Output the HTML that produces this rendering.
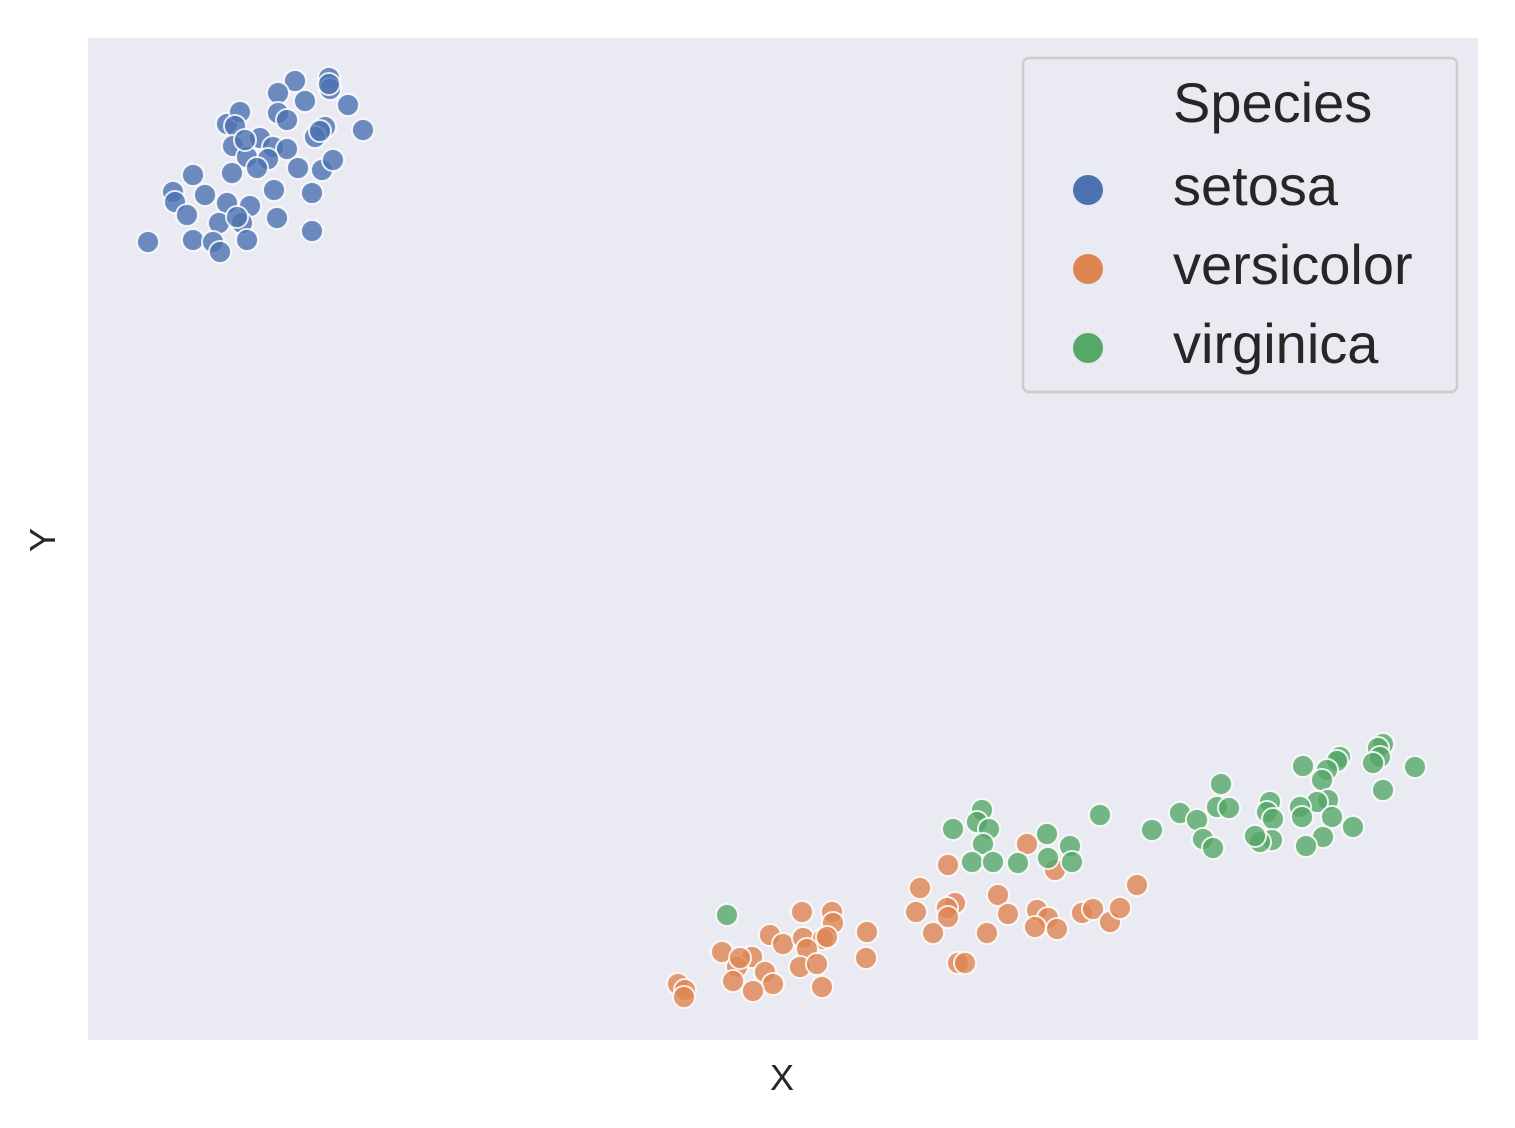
<!DOCTYPE html>
<html><head><meta charset="utf-8"><style>
html,body{margin:0;padding:0;background:#fff;}
svg{display:block;font-family:"Liberation Sans",Arial,sans-serif;}
</style></head><body>
<svg id="chart" width="1515" height="1128" viewBox="0 0 1515 1128">
<rect x="88" y="38" width="1390" height="1002" fill="#eaeaf2"/>
<g id="points"></g>
<text x="782" y="1090" font-size="36" text-anchor="middle" fill="#262626">X</text>
<text x="55" y="540" font-size="36" text-anchor="middle" fill="#262626" transform="rotate(-90 55 540)">Y</text>
<g>
<rect x="1023" y="58" width="434" height="334" rx="6" fill="#eaeaf2" fill-opacity="0.8" stroke="#cccccc" stroke-width="2.5"/>
<text x="1173" y="122" font-size="56" fill="#262626">Species</text>
<g><circle cx="1088" cy="190" r="15" fill="#4c72b0"/><text x="1173" y="205" font-size="56" fill="#262626">setosa</text></g>
<g><circle cx="1088" cy="269" r="15" fill="#dd8452"/><text x="1173" y="284" font-size="56" fill="#262626">versicolor</text></g>
<g><circle cx="1088" cy="348" r="15" fill="#55a868"/><text x="1173" y="363" font-size="56" fill="#262626">virginica</text></g>
</g>
</svg>
<script>
const setosaX=[20.7,24.1,24.2,19.0,21.7,26.0,13.9,15.2,14.7,19.0,19.9,23.7,22.7,27.5,17.2,14.5,18.5,19.9,15.9,18.0,16.9,21.0,23.4,24.5,14.4,10.5,8.5,8.7,11.7,9.9,13.9,16.2,18.6,22.4,13.1,15.4,18.9,22.4,6.0,10.5,12.5,13.2,15.9,14.9,24.1,23.2,15.7];
const setosaY=[95.9,96.2,95.1,94.7,93.9,93.5,91.6,92.8,91.4,92.7,92.0,91.3,90.3,91.0,90.2,89.4,89.3,89.1,88.3,88.1,87.2,87.2,87.0,88.0,86.7,86.5,84.8,83.8,84.5,82.5,83.7,83.4,85.0,84.7,81.7,81.7,82.2,80.9,79.8,80.0,79.8,78.8,80.0,82.3,95.6,90.9,90.0];
const versicolorX=[93.9,86.0,96.7,83.2,104.9,86.7,85.9,91.0,82.8,86.0,92.0,94.9,96.0,94.7,96.9,99.4,100.5,102.2,103.2,84.5,89.9,87.0,87.7,71.4,74.4,74.5,68.2,69.5,71.5,73.5,71.9,77.9,77.8,63.4,66.4,64.9,67.7,64.5,68.5,66.5,71.2,72.9,73.4,59.0,59.7,59.6,65.2,73.9];
const versicolorY=[19.6,17.5,17.0,15.2,15.5,13.7,13.2,14.5,12.8,12.3,12.6,13.0,12.2,11.3,11.1,12.7,13.1,11.8,13.2,10.7,10.7,7.7,7.7,12.8,12.8,11.7,10.5,9.6,10.2,10.1,9.1,10.8,8.2,8.8,8.3,7.3,6.8,5.9,5.6,4.9,7.3,7.6,5.3,5.6,5.0,4.3,8.2,10.3];
const virginicaX=[129.5,129.0,129.2,128.5,132.7,129.5,125.2,124.9,123.9,123.4,121.5,124.0,122.9,121.2,121.4,124.4,123.5,126.5,121.8,118.2,117.9,118.5,118.4,117.2,116.7,113.3,112.9,114.1,109.2,110.9,111.5,112.5,106.4,101.2,89.4,88.9,86.5,90.1,89.5,95.9,98.2,88.4,90.5,93.0,96.0,98.4,63.9];
const virginicaY=[29.6,29.2,28.3,27.7,27.3,25.0,28.3,27.9,27.0,26.0,27.4,24.0,23.8,23.3,22.3,22.3,20.3,21.3,19.4,23.8,22.8,22.1,20.0,19.8,20.4,25.6,23.3,23.2,22.7,22.0,20.1,19.2,21.0,22.5,23.0,21.8,21.1,21.1,19.6,20.6,19.4,17.8,17.8,17.7,18.2,17.8,12.5];

const xDomain=[0,139], yDomain=[0,100.2];
const plot={left:88,right:1478,top:38,bottom:1040};
function sx(v){return plot.left+(v-xDomain[0])/(xDomain[1]-xDomain[0])*(plot.right-plot.left);}
function sy(v){return plot.bottom-(v-yDomain[0])/(yDomain[1]-yDomain[0])*(plot.bottom-plot.top);}
const NS='http://www.w3.org/2000/svg';
const layer=document.getElementById('points');
function drawSeries(xs,ys,color,name){
  const g=document.createElementNS(NS,'g');
  
  
  for(let i=0;i<xs.length;i++){
    const c=document.createElementNS(NS,'circle');
    c.setAttribute('cx',sx(xs[i]));
    c.setAttribute('cy',sy(ys[i]));
    c.setAttribute('r',11);
    c.setAttribute('fill',color);
    c.setAttribute('fill-opacity','0.8');
    c.setAttribute('stroke','#ffffff');
    c.setAttribute('stroke-opacity','0.85');
    c.setAttribute('stroke-width','2');
    
    
    g.appendChild(c);
  }
  layer.appendChild(g);
}
drawSeries(setosaX,setosaY,'#4c72b0','setosa');
drawSeries(versicolorX,versicolorY,'#dd8452','versicolor');
drawSeries(virginicaX,virginicaY,'#55a868','virginica');
</script>
</body></html>
